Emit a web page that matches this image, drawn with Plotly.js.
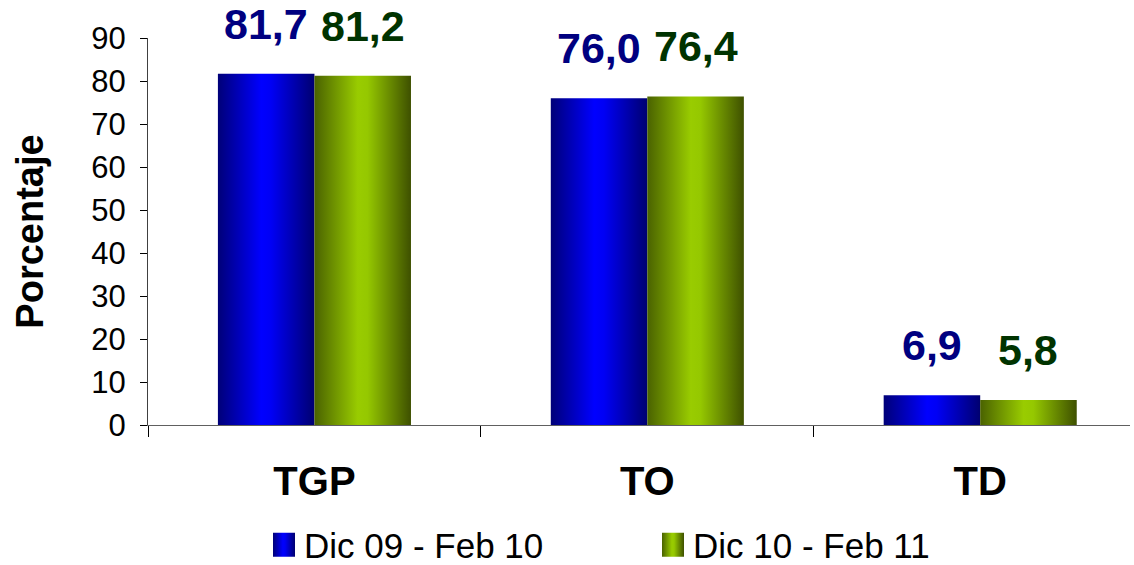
<!DOCTYPE html>
<html>
<head>
<meta charset="utf-8">
<script src="https://cdn.plot.ly/plotly-3.0.1.min.js"></script>
<style>
html,body{margin:0;padding:0;background:#fff;overflow:hidden;}
#chart{width:1134px;height:565px;}
</style>
</head>
<body>
<div id="chart"></div>
<script>
var categories = ["TGP", "TO", "TD"];
var seriesNames = ["Dic 09 - Feb 10", "Dic 10 - Feb 11"];
var valuesA = [81.7, 76.0, 6.9];
var valuesB = [81.2, 76.4, 5.8];
var yTicks = [0, 10, 20, 30, 40, 50, 60, 70, 80, 90];

var FONT = "Liberation Sans, Arial, sans-serif";
var BARGAP = 0.42;
var labelColors = ["#000080", "#003300"];
var baseColors = ["#0000ff", "#99cc00"];

function fmt(v){ return v.toFixed(1).replace(".", ","); }

var traces = [
  {type:"bar", name:seriesNames[0], x:categories, y:valuesA,
   marker:{color:baseColors[0], line:{width:0}}, hoverinfo:"none"},
  {type:"bar", name:seriesNames[1], x:categories, y:valuesB,
   marker:{color:baseColors[1], line:{width:0}}, hoverinfo:"none"}
];

var half = (1 - BARGAP) / 4;
var annotations = [];
[valuesA, valuesB].forEach(function(vals, s){
  vals.forEach(function(v, i){
    annotations.push({
      x: i + (s === 0 ? -half : half), y: v, xref:"x", yref:"y",
      text: fmt(v), showarrow:false, yanchor:"middle", yshift:50,
      font:{family:FONT, size:43, color:labelColors[s], weight:"bold"}
    });
  });
});

var layout = {
  width:1134, height:565,
  margin:{l:148, r:4, t:38, b:140, pad:0},
  paper_bgcolor:"#fff", plot_bgcolor:"#fff",
  barmode:"group", bargap:BARGAP, bargroupgap:0,
  showlegend:true,
  font:{family:FONT, color:"#000"},
  xaxis:{
    type:"category", range:[-0.5, 2.45], fixedrange:true,
    showline:true, linecolor:"#606060", linewidth:1,
    ticks:"outside", tickson:"boundaries", ticklen:11, tickcolor:"#000",
    ticklabelstandoff:21,
    tickfont:{family:FONT, size:40, color:"#000", weight:"bold"},
    showgrid:false, zeroline:false
  },
  yaxis:{
    range:[0, 90], tickvals:yTicks, ticktext:yTicks.map(String),
    showline:true, linecolor:"#404040", linewidth:1,
    ticks:"outside", ticklen:7, tickcolor:"#000",
    ticklabelstandoff:8,
    tickfont:{family:FONT, size:31, color:"#000"},
    showgrid:false, zeroline:false, fixedrange:true,
    title:{text:"Porcentaje", standoff:36,
           font:{family:FONT, size:38, color:"#000", weight:"bold"}}
  },
  legend:{
    orientation:"h", xref:"container", yref:"container",
    x:264/1134, y:(565-545)/565, xanchor:"left", yanchor:"middle",
    entrywidth:344, entrywidthmode:"pixels",
    font:{family:FONT, size:35, color:"#000"},
    bgcolor:"rgba(0,0,0,0)", borderwidth:0
  },
  annotations: annotations
};

function addGradients(gd){
  var svg = gd.querySelector(".main-svg");
  var ns = "http://www.w3.org/2000/svg";
  var defs = svg.querySelector("defs");
  if(!defs){ defs = document.createElementNS(ns, "defs"); svg.insertBefore(defs, svg.firstChild); }
  var grads = {
    gBlue: [["0%","#000078"],["45%","#0000ff"],["55%","#0000f5"],["100%","#000070"]],
    gGreen: [["0%","#4a6200"],["45%","#99cc00"],["55%","#95c800"],["100%","#3e5000"]]
  };
  Object.keys(grads).forEach(function(id){
    var g = document.createElementNS(ns, "linearGradient");
    g.setAttribute("id", id);
    g.setAttribute("x1","0"); g.setAttribute("y1","0");
    g.setAttribute("x2","1"); g.setAttribute("y2","0");
    grads[id].forEach(function(st){
      var s = document.createElementNS(ns, "stop");
      s.setAttribute("offset", st[0]); s.setAttribute("stop-color", st[1]);
      g.appendChild(s);
    });
    defs.appendChild(g);
  });
  var ids = ["gBlue","gGreen"];
  var barTraces = gd.querySelectorAll(".barlayer .trace");
  barTraces.forEach(function(t, k){
    t.querySelectorAll("path").forEach(function(p){ p.style.fill = "url(#" + ids[k] + ")"; });
  });
  var items = gd.querySelectorAll(".legend .traces");
  items.forEach(function(it, k){
    it.querySelectorAll(".legendpoints path").forEach(function(p){
      p.style.fill = "url(#" + ids[k] + ")";
      p.style.stroke = "none";
      p.setAttribute("d", "M11,12H-11V-12H11Z");
    });
  });
}

Plotly.newPlot("chart", traces, layout, {displayModeBar:false, staticPlot:true}).then(addGradients);
</script>
</body>
</html>
